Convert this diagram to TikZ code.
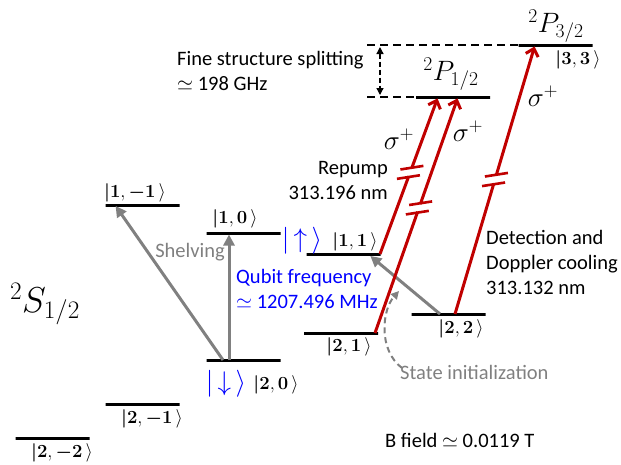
\RequirePackage{fix-cm}
\documentclass[tikz,border=0pt]{standalone}
\usepackage[no-math]{fontspec}
\setmainfont{Carlito}
\usepackage{amsmath,amssymb,bm}
\usetikzlibrary{arrows.meta,calc}
\definecolor{dred}{HTML}{C00000}
\definecolor{lgray}{HTML}{808080}
\definecolor{qblue}{HTML}{0000FF}
\newcommand{\ket}[1]{$\bm{|}\mathbf{#1}\,\rangle$}
\newcommand{\brkmark}[3]{%
  \coordinate (bm) at ($(#1)!#3!(#2)$);
  \coordinate (bma) at ($(bm)!5pt!(#1)$);
  \coordinate (bmb) at ($(bm)!5pt!(#2)$);
  \draw[white,line width=6pt] ($(bm)!4pt!(#1)$) -- ($(bm)!4pt!(#2)$);
  \draw[dred,line width=2.6pt] ($(bma)+(-11.5,1.8)$) -- ($(bma)+(11.5,-1.8)$);
  \draw[dred,line width=2.6pt] ($(bmb)+(-11.5,1.8)$) -- ($(bmb)+(11.5,-1.8)$);
}
\begin{document}
\begin{tikzpicture}[x=1pt,y=-1pt,
  lvl/.style={draw,line width=3pt,minimum width=74pt,minimum height=0pt,inner sep=0pt,outer sep=0pt},
  ketlab/.style={inner sep=0pt,font=\fontsize{18.5}{21}\selectfont},
  txt/.style={inner sep=0pt,font=\fontsize{20.5}{25}\selectfont},
  redarr/.style={dred,line width=3pt,-{Straight Barb[length=7pt,width=13pt,line width=3pt]}},
  grayarr/.style={lgray,line width=3pt,-{Triangle[length=11pt,width=11pt]}},
  sig/.style={inner sep=0pt,font=\fontsize{27}{29}\selectfont}]
\useasboundingbox (0,0) rectangle (621,464);
% levels
\node[lvl] (l22m) at (52.5,438) {};
\node[lvl] (l21m) at (142.5,404) {};
\node[lvl] (l11m) at (142.5,205) {};
\node[lvl] (l10) at (243.5,233) {};
\node[lvl] (l20) at (243.5,360) {};
\node[lvl] (l11) at (343.5,254) {};
\node[lvl] (l21) at (341,333) {};
\node[lvl] (l22) at (448.5,314) {};
\node[lvl] (p12) at (453,97) {};
\node[lvl] (p32) at (555.5,45) {};
% level labels
\node[ketlab] (k22m) at (62,453) {\ket{2,\bm{-}2}};
\node[ketlab] (k21m) at (152,419) {\ket{2,\bm{-}1}};
\node[ketlab] (k11m) at (135,193) {\ket{1,\bm{-}1}};
\node[ketlab] (k10) at (235,219) {\ket{1,0}};
\node[ketlab] (k20) at (276,385) {\ket{2,0}};
\node[ketlab] (k11) at (355,242) {\ket{1,1}};
\node[ketlab] (k21) at (349,347) {\ket{2,1}};
\node[ketlab] (k22) at (461,329) {\ket{2,2}};
\node[ketlab] (k33) at (578,60) {\ket{3,3}};
\node[inner sep=0pt,text=qblue,font=\fontsize{27}{29}\selectfont] (kdown) at (226,384) {$|\,{\downarrow}\,\rangle$};
\node[inner sep=0pt,text=qblue,font=\fontsize{27}{29}\selectfont] (kup) at (302,241) {$|\,{\uparrow}\,\rangle$};
\node[inner sep=0pt,font=\fontsize{28}{30}\selectfont] (tp12) at (451,74) {$^2P_{1/2}$};
\node[inner sep=0pt,font=\fontsize{28}{30}\selectfont] (tp32) at (556,26) {$^2P_{3/2}$};
\node[inner sep=0pt,font=\fontsize{36}{38}\selectfont] (ts12) at (45,304) {$^2S_{1/2}$};
% texts
\node[txt,anchor=west,align=left] (fss) at (177,71) {Fine structure splitting\\$\simeq$ 198 GHz};
\node[txt,anchor=east,align=right] (rep) at (388,180) {Repump\\313.196 nm};
\node[txt,anchor=west,align=left] (det) at (486,262) {Detection and\\Doppler cooling\\313.132 nm};
\node[txt,anchor=west,align=left,text=qblue] (qf) at (236,289) {Qubit frequency\\$\simeq$ 1207.496 MHz};
\node[txt,text=lgray] (shel) at (190,252) {Shelving};
\node[txt,anchor=west,text=lgray] (sitext) at (400,372) {State initialization};
\node[txt,anchor=west] (bf) at (385,440) {B field $\simeq$ 0.0119 T};
\node[sig] (s1) at (399,139) {$\sigma^+$};
\node[sig] (s2) at (468,131) {$\sigma^+$};
\node[sig] (s3) at (543,96) {$\sigma^+$};
% fine structure dashed
\coordinate (dl1) at (367,45);
\coordinate (dl2) at (367,97);
\draw[dash pattern=on 8pt off 5pt,line width=1.5pt] (dl1) -- (p32.west);
\draw[dash pattern=on 8pt off 5pt,line width=1.5pt] (dl2) -- (p12.west);
\coordinate (va) at (380,47);
\coordinate (vb) at (380,95);
\draw[dash pattern=on 5pt off 3pt,line width=1.3pt,{Triangle[length=7pt,width=7pt]}-{Triangle[length=7pt,width=7pt]}] (va) -- (vb);
% gray arrows
\draw[grayarr,shorten >=1pt] ([xshift=-20.5pt]l20.center) -- ([xshift=-27.5pt]l11m.center);
\draw[grayarr,shorten >=1.5pt] ([xshift=-14.5pt]l20.center) -- ([xshift=-14.5pt]l10.center);
\draw[grayarr,shorten >=3pt] ([xshift=-8.5pt]l22.center) -- ([xshift=24.5pt]l11.center);
\coordinate (sia) at (402,368);
\coordinate (sib) at (399,291);
\draw[lgray,line width=2pt,dash pattern=on 6pt off 4pt,-{Triangle[length=8pt,width=8pt]}] (sia) .. controls (378,350) and (382,310) .. (sib);
% red arrows
\coordinate (r1a) at ([xshift=36.5pt]l11.center);
\coordinate (r1b) at ([xshift=-15pt]p12.center);
\coordinate (r2a) at ([xshift=34pt]l21.center);
\coordinate (r2b) at ([xshift=5pt]p12.center);
\coordinate (r3a) at ([xshift=6.5pt]l22.center);
\coordinate (r3b) at ([xshift=-20.5pt]p32.center);
\draw[redarr,shorten >=1.5pt] (r1a) -- (r1b);
\draw[redarr,shorten >=1.5pt] (r2a) -- (r2b);
\draw[redarr,shorten >=1.5pt] (r3a) -- (r3b);
\brkmark{r1a}{r1b}{0.52}
\brkmark{r2a}{r2b}{0.53}
\brkmark{r3a}{r3b}{0.50}
\end{tikzpicture}
\end{document}
